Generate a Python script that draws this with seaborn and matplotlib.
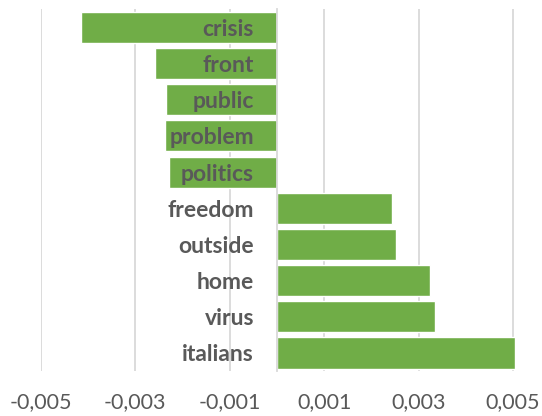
import matplotlib
matplotlib.use("Agg")
import matplotlib.pyplot as plt
import seaborn as sns
import pandas as pd

# Words and their weights
words = ["crisis", "front", "public", "problem", "politics",
         "freedom", "outside", "home", "virus", "italians"]
weights = [-0.00415, -0.00259, -0.00235, -0.00236, -0.00228,
           0.00243, 0.00252, 0.00325, 0.00335, 0.00504]
tick_values = [-0.005, -0.003, -0.001, 0.001, 0.003, 0.005]
tick_labels = ["-0,005", "-0,003", "-0,001", "0,001", "0,003", "0,005"]

df = pd.DataFrame({"word": words, "weight": weights})

sns.set_style("white")
plt.rcParams["font.family"] = ["Lato", "DejaVu Sans"]

GREEN = "#70AD47"
TEXT = "#595959"
GRID = "#D9D9D9"

fig = plt.figure(figsize=(5.42, 4.16), dpi=100)
ax = fig.add_axes([0.0751, 0.108, 0.875, 0.8696])

sns.barplot(data=df, x="weight", y="word", orient="h", color=GREEN,
            saturation=1, width=0.86, ax=ax)

ax.set_xlim(-0.005, 0.00504)
ax.set_ylim(9.5, -0.5)
ax.set_xticks(tick_values)
ax.set_xticklabels(tick_labels)
ax.set_xlabel("")
ax.set_ylabel("")

ax.set_axisbelow(True)
ax.xaxis.grid(True, color=GRID, linewidth=1.3)
ax.yaxis.grid(False)

for side in ("top", "right", "bottom"):
    ax.spines[side].set_visible(False)
ax.spines["left"].set_position(("data", 0))
ax.spines["left"].set_color(GRID)
ax.spines["left"].set_linewidth(1.3)

ax.tick_params(axis="x", length=0, pad=15, labelsize=15.5, labelcolor=TEXT)
ax.tick_params(axis="y", length=0, pad=16.5, labelsize=16.5, labelcolor=TEXT)
for lbl in ax.get_yticklabels():
    lbl.set_fontweight("bold")
ax.yaxis.set_zorder(5)

fig.savefig("out.png", dpi=100)
